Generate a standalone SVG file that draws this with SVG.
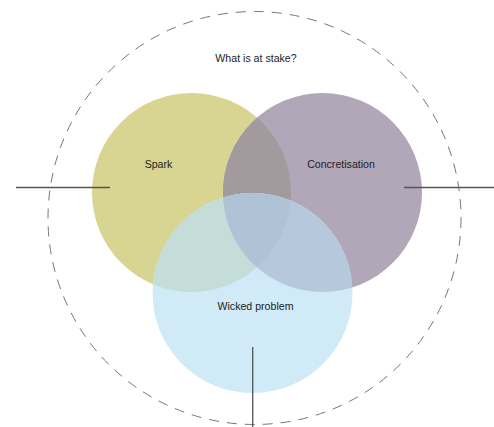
<svg xmlns="http://www.w3.org/2000/svg" width="494" height="427" viewBox="0 0 494 427">
<style>
text{font-family:"Liberation Sans",Arial,sans-serif;font-size:10.6px;fill:#222;text-anchor:middle}
.ln{stroke:#555;stroke-width:1.3;fill:none}
</style>
<defs>
<clipPath id="cS"><circle cx="191.5" cy="192.5" r="99.5"/></clipPath>
<clipPath id="cC"><circle cx="322.5" cy="192.5" r="99.5"/></clipPath>
</defs>
<rect width="494" height="427" fill="#fff"/>
<circle cx="254.5" cy="218" r="206.5" fill="none" stroke="#777" stroke-width="1" stroke-dasharray="10 8"/>
<g id="spark"><circle cx="191.5" cy="192.5" r="99.5" fill="#d8d593"/></g>
<g id="concretisation"><circle cx="322.5" cy="192.5" r="99.5" fill="#b2a7b8"/>
<circle cx="322.5" cy="192.5" r="99.5" fill="#a39a9e" clip-path="url(#cS)"/></g>
<g id="wicked"><circle cx="252.5" cy="293" r="100" fill="#d1eaf8"/>
<circle cx="252.5" cy="293" r="100" fill="#c4ddd8" clip-path="url(#cS)"/>
<circle cx="252.5" cy="293" r="100" fill="#b6c8dc" clip-path="url(#cC)"/>
<g clip-path="url(#cS)"><circle cx="252.5" cy="293" r="100" fill="#b0c3d6" clip-path="url(#cC)"/></g></g>
<g id="connectors">
<line class="ln" x1="16" y1="187.5" x2="110" y2="187.5"/>
<line class="ln" x1="404" y1="187.5" x2="494" y2="187.5"/>
<line class="ln" x1="252.7" y1="347" x2="252.7" y2="393" stroke="#7d8a96"/>
<line class="ln" x1="252.7" y1="393" x2="252.7" y2="427"/>
</g>
<g id="labels">
<text x="256" y="62">What is at stake?</text>
<text x="158.5" y="168">Spark</text>
<text x="341" y="167.5">Concretisation</text>
<text x="255.5" y="310">Wicked problem</text>
</g>
</svg>
